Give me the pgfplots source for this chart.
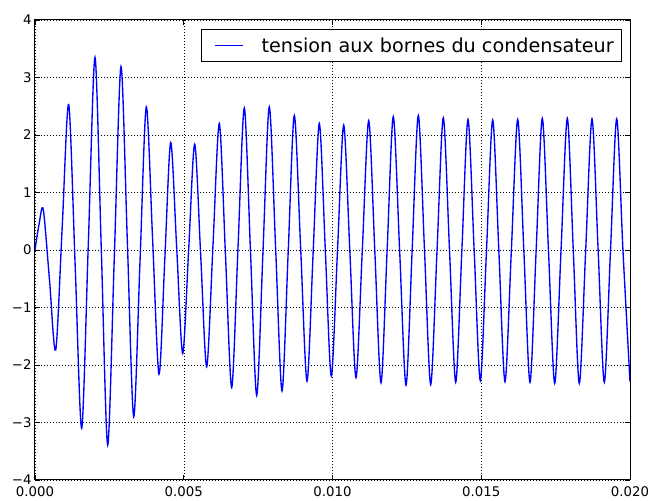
\documentclass[border=0pt]{standalone}
\usepackage{pgfplots}
\pgfplotsset{compat=1.18}
\usepackage{pgfplotstable}
\usepackage{fontspec}
\setmainfont{DejaVu Sans}

\pgfplotstableread{
t v
0 0
0.000140 0.46
0.0002790 0.70
0.0004874 -0.52
0.0006958 -1.74
0.0009143 0.395
0.0011328 2.53
0.0013513 -0.285
0.0015697 -3.10
0.0017933 0.125
0.0020168 3.35
0.0022303 -0.02
0.0024437 -3.39
0.0026673 -0.10
0.0028908 3.19
0.0031042 0.145
0.0033176 -2.90
0.0035294 -0.205
0.0037412 2.49
0.0039547 0.165
0.0041681 -2.16
0.0043647 -0.145
0.0045613 1.87
0.0047630 0.035
0.0049647 -1.80
0.0051664 0.02
0.0053681 1.84
0.0055698 -0.095
0.0057714 -2.03
0.0059832 0.085
0.0061950 2.20
0.0064034 -0.095
0.0066118 -2.39
0.0068236 0.04
0.0070353 2.47
0.0072437 -0.03
0.0074521 -2.53
0.0076639 -0.02
0.0078756 2.49
0.0080891 0.02
0.0083025 -2.45
0.0085093 -0.055
0.0087160 2.34
0.0089295 0.03
0.0091429 -2.28
0.0093496 -0.04
0.0095563 2.20
0.0097580 0.005
0.0099597 -2.19
0.0101681 -0.01
0.0103765 2.17
0.0105832 -0.025
0.0107899 -2.22
0.0110034 0.015
0.0112168 2.25
0.0114235 -0.03
0.0116303 -2.31
0.0118370 0.005
0.0120437 2.32
0.0122571 -0.015
0.0124706 -2.35
0.0126773 -0.005
0.0128840 2.34
0.0130924 0.0
0.0133008 -2.34
0.0135126 -0.02
0.0137244 2.30
0.0139328 0.0
0.0141412 -2.30
0.0143479 -0.015
0.0145546 2.27
0.0147614 0.0
0.0149681 -2.27
0.0151765 -0.005
0.0153849 2.26
0.0155916 -0.015
0.0157983 -2.29
0.0160118 -0.01
0.0162252 2.27
0.0164320 -0.015
0.0166387 -2.30
0.0168454 -0.005
0.0170521 2.29
0.0172605 -0.015
0.0174689 -2.32
0.0176807 -0.015
0.0178924 2.29
0.0180941 -0.015
0.0182958 -2.32
0.0185093 -0.02
0.0187227 2.28
0.0189294 -0.01
0.0191361 -2.30
0.0193445 -0.01
0.0195529 2.28
0.0197630 -0.005
0.0200000 -2.29
}\tension

\begin{document}
\begin{tikzpicture}
\begin{axis}[
  name=ax,
  scale only axis,
  width=595pt, height=460pt,
  xmin=0, xmax=0.02, ymin=-4, ymax=4,
  xtick={0,0.005,0.01,0.015,0.02},
  xticklabels={0.000,0.005,0.010,0.015,0.020},
  scaled x ticks=false,
  ytick={-4,-3,-2,-1,0,1,2,3,4},
  yticklabels={−4,−3,−2,−1,0,1,2,3,4},
  /pgf/number format/assume math mode=true,
  tick align=inside,
  major tick length=5.3pt,
  tick style={black, line width=0.8pt},
  axis line style={black, line width=1pt},
  ticklabel style={font=\fontsize{13.3}{16}\selectfont},
  xticklabel style={yshift=-3.5pt},
  grid=major,
  major grid style={black, line width=0.5pt, dash pattern=on 0.8pt off 2.2pt},
  legend style={at={(0.987,0.980)}, anchor=north east, draw=black, line width=1pt,
    font=\fontsize{19.2}{23}\selectfont, inner xsep=6pt, inner ysep=6pt,
    cells={anchor=west}},
  legend image code/.code={\path[draw=none] (0pt,0pt) -- (52pt,0pt);
    \draw[#1, line width=1.3pt] (7pt,0pt) -- (35.4pt,0pt);},
]
\addplot[blue, line width=1.35pt, smooth, tension=0.5] table[x=t, y=v] {\tension};
\addlegendentry{tension aux bornes du condensateur}
\end{axis}
\path (ax.south west) ++(-35pt,-20pt) rectangle ([shift={(23pt,20pt)}]ax.north east);
\end{tikzpicture}
\end{document}
